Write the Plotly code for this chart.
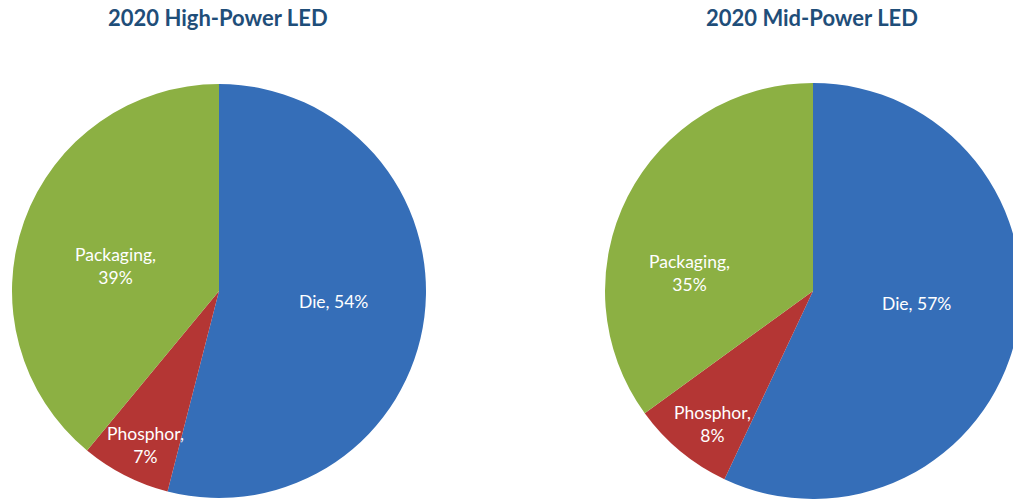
import plotly.graph_objects as go

# LED package cost breakdown, 2020
components = ["Die", "Phosphor", "Packaging"]
high_power_share = [54, 7, 39]
mid_power_share = [57, 8, 35]
chart_titles = ["2020 High-Power LED", "2020 Mid-Power LED"]

slice_colors = ["#356EB8", "#B43634", "#8CB043"]
label_breaks = [" ", "<br>", "<br>"]

# Label anchor points (pixels) for each pie, in component order
label_px = [
    [(333, 301), (145, 445), (115, 266)],
    [(916, 303), (712, 424), (689, 273)],
]

W, H = 1031, 502
FONT = "Lato, Carlito, Calibri, sans-serif"


def px_dom(lo, hi, total):
    return [lo / total, hi / total]


fig = go.Figure()

pie_specs = [
    (high_power_share, px_dom(12, 426, W), [1 - 498 / H, 1 - 84 / H]),
    (mid_power_share, px_dom(605, 1021, W), [1 - 499 / H, 1 - 83 / H]),
]

for shares, dx, dy in pie_specs:
    fig.add_trace(go.Pie(
        labels=components,
        values=shares,
        sort=False,
        direction="clockwise",
        rotation=0,
        marker=dict(colors=slice_colors, line=dict(width=0)),
        textinfo="none",
        hoverinfo="label+percent",
        showlegend=False,
        domain=dict(x=dx, y=dy),
    ))

# Slice labels: category name and share
for shares, positions in zip([high_power_share, mid_power_share], label_px):
    for comp, val, brk, (px, py) in zip(components, shares, label_breaks, positions):
        fig.add_annotation(
            text=f"{comp},{brk}{val}%", x=px / W, y=1 - py / H,
            xref="paper", yref="paper", xanchor="center", yanchor="middle",
            showarrow=False, align="center",
            font=dict(family=FONT, size=17.5, color="white"),
        )

title_x = [218 / W, 812 / W]
for t, x in zip(chart_titles, title_x):
    fig.add_annotation(
        text=f"<b>{t}</b>", x=x, y=1 - 18 / H, xref="paper", yref="paper",
        xanchor="center", yanchor="middle", showarrow=False,
        font=dict(family=FONT, size=22, color="#1F4E79"),
    )

fig.update_layout(
    width=W, height=H,
    margin=dict(l=0, r=0, t=0, b=0),
    paper_bgcolor="white",
    plot_bgcolor="white",
)

fig.write_html("out.html", post_script="document.body.style.overflow='hidden';")
